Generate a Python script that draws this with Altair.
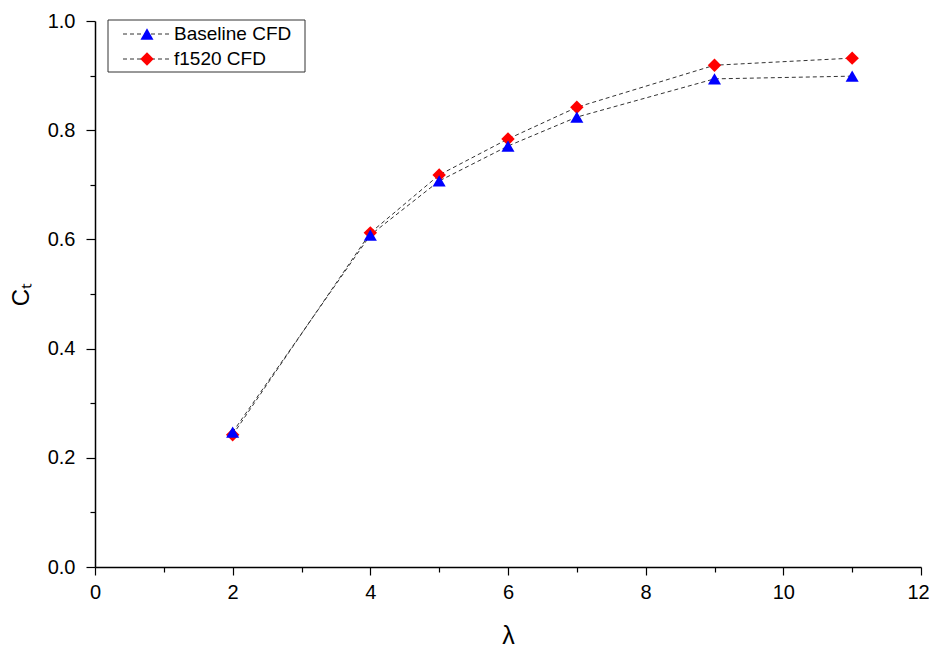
import altair as alt
import pandas as pd

lam = [2, 4, 5, 6, 7, 9, 11]
baseline = [0.247, 0.608, 0.707, 0.771, 0.824, 0.894, 0.899]
f1520 = [0.242, 0.612, 0.718, 0.784, 0.842, 0.919, 0.932]
series_names = ["Baseline CFD", "f1520 CFD"]
x_ticks = list(range(0, 13))
y_ticks = [round(i * 0.1, 1) for i in range(0, 11)]

df_b = pd.DataFrame({"lam": lam, "ct": baseline})
df_f = pd.DataFrame({"lam": lam, "ct": f1520})

FONT = "Liberation Sans"

xscale = alt.Scale(domain=[0, 12], nice=False, zero=False)
yscale = alt.Scale(domain=[0, 1.0], nice=False, zero=False)

xaxis = alt.Axis(
    values=x_ticks,
    labelExpr="datum.value % 2 === 0 ? format(datum.value, 'd') : ''",
    tickSize={"condition": {"test": "datum.value % 2 !== 0", "value": 5}, "value": 8},
    labelOffset={"condition": {"test": "datum.value === 12", "value": -3}, "value": 0},
    title="λ", titleFontSize=25, titleFont=FONT, titleFontWeight="normal",
    titlePadding=21, labelFontSize=20, labelFont=FONT, labelPadding=7,
    grid=False, domainColor="black", tickColor="black", labelColor="black",
    titleColor="black",
    domainWidth=1.5, tickWidth=1.2, labelFlush=False, labelOverlap=False,
)
yaxis = alt.Axis(
    values=y_ticks,
    labelExpr="round(datum.value*10) % 2 === 0 ? format(datum.value, '.1f') : ''",
    tickSize={"condition": {"test": "round(datum.value*10) % 2 !== 0", "value": 5}, "value": 9},
    title="Cₜ", titleFontSize=24, titleFont=FONT, titleFontWeight="normal",
    titlePadding=14, titleColor="black",
    labelFontSize=20, labelFont=FONT, labelPadding=11,
    grid=False, domainColor="black", tickColor="black", labelColor="black",
    domainWidth=1.5, tickWidth=1.2, labelFlush=False, labelOverlap=False,
)

line_f = alt.Chart(df_f).mark_line(color="#333333", strokeDash=[4, 3], strokeWidth=1).encode(
    x=alt.X("lam:Q", scale=xscale, axis=xaxis),
    y=alt.Y("ct:Q", scale=yscale, axis=yaxis),
)
line_b = alt.Chart(df_b).mark_line(color="#333333", strokeDash=[4, 3], strokeWidth=1).encode(
    x=alt.X("lam:Q", scale=xscale),
    y=alt.Y("ct:Q", scale=yscale),
)
pts_f = alt.Chart(df_f).mark_point(shape="diamond", filled=True, color="#ff0000", size=180, opacity=1).encode(
    x=alt.X("lam:Q", scale=xscale),
    y=alt.Y("ct:Q", scale=yscale),
)
pts_b = alt.Chart(df_b).mark_point(shape="triangle-up", filled=True, color="#0000ff", size=170, opacity=1).encode(
    x=alt.X("lam:Q", scale=xscale),
    y=alt.Y("ct:Q", scale=yscale),
)

# legend
one = pd.DataFrame({"a": [0]})
leg_box = alt.Chart(one).mark_rect(
    fill="white", stroke="#333333", strokeWidth=1
).encode(x=alt.value(13), x2=alt.value(210), y=alt.value(-1), y2=alt.value(51))
leg_l1 = alt.Chart(one).mark_rule(
    color="#333333", strokeDash=[4, 3], strokeWidth=1
).encode(x=alt.value(28), x2=alt.value(75), y=alt.value(13))
leg_l2 = alt.Chart(one).mark_rule(
    color="#333333", strokeDash=[4, 3], strokeWidth=1
).encode(x=alt.value(28), x2=alt.value(75), y=alt.value(38))
leg_p1 = alt.Chart(one).mark_point(
    shape="triangle-up", filled=True, color="#0000ff", size=170, opacity=1
).encode(x=alt.value(52), y=alt.value(13))
leg_p2 = alt.Chart(one).mark_point(
    shape="diamond", filled=True, color="#ff0000", size=180, opacity=1
).encode(x=alt.value(52), y=alt.value(38))
leg_t1 = alt.Chart(pd.DataFrame({"t": [series_names[0]]})).mark_text(
    font=FONT, fontSize=19, align="left", baseline="middle", color="black"
).encode(text="t:N", x=alt.value(79), y=alt.value(13))
leg_t2 = alt.Chart(pd.DataFrame({"t": [series_names[1]]})).mark_text(
    font=FONT, fontSize=19, align="left", baseline="middle", color="black"
).encode(text="t:N", x=alt.value(79), y=alt.value(38))

chart = alt.layer(
    line_f, line_b, pts_f, pts_b,
    leg_box, leg_l1, leg_l2, leg_p1, leg_p2, leg_t1, leg_t2,
).properties(
    width=826, height=546,
    autosize=alt.AutoSizeParams(type="none"),
    padding={"left": 87, "top": 13, "right": 8, "bottom": 80},
    background="white",
).configure_view(stroke=None)

chart.save("out.html", embed_options={"renderer": "svg", "actions": False})
